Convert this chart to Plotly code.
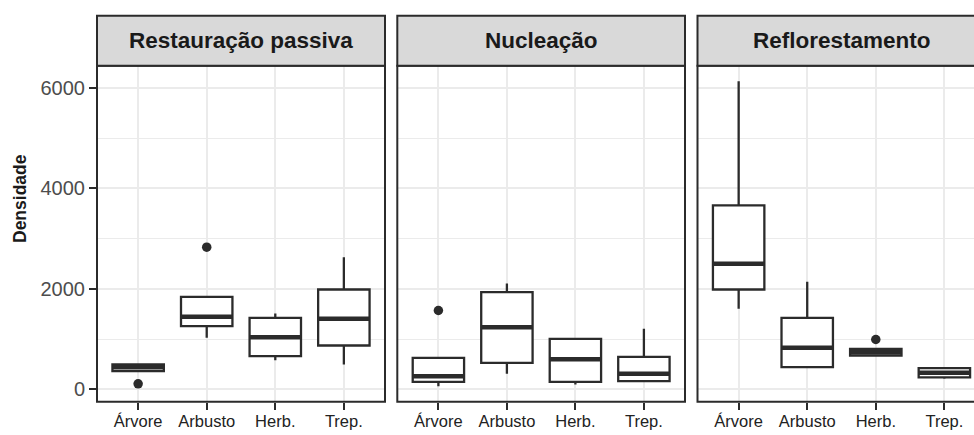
import plotly.graph_objects as go

# Life forms on the x axis of every panel
categories = ["Árvore", "Arbusto", "Herb.", "Trep."]
panels = ["Restauração passiva", "Nucleação", "Reflorestamento"]

# Box statistics per panel (density), one value per life form
passiva_lower = [364, 1028, 583, 497]
passiva_q1 = [364, 1259, 663, 875]
passiva_median = [440, 1446, 1041, 1406]
passiva_q3 = [500, 1843, 1426, 1989]
passiva_upper = [500, 1843, 1512, 2632]
passiva_out_x = ["Árvore", "Arbusto"]
passiva_out_y = [113, 2830]

nucleacao_lower = [66, 312, 100, 165]
nucleacao_q1 = [153, 530, 153, 165]
nucleacao_median = [265, 1240, 600, 312]
nucleacao_q3 = [630, 1936, 1008, 650]
nucleacao_upper = [630, 2108, 1008, 1207]
nucleacao_out_x = ["Árvore"]
nucleacao_out_y = [1571]

reflor_lower = [1605, 444, 662, 213]
reflor_q1 = [1989, 444, 676, 240]
reflor_median = [2500, 829, 742, 332]
reflor_q3 = [3660, 1426, 809, 424]
reflor_upper = [6132, 2142, 809, 424]
reflor_out_x = ["Herb."]
reflor_out_y = [994]

y_ticks = [0, 2000, 4000, 6000]
y_minor = [1000, 3000, 5000]

stats = [
    (passiva_lower, passiva_q1, passiva_median, passiva_q3, passiva_upper, passiva_out_x, passiva_out_y),
    (nucleacao_lower, nucleacao_q1, nucleacao_median, nucleacao_q3, nucleacao_upper, nucleacao_out_x, nucleacao_out_y),
    (reflor_lower, reflor_q1, reflor_median, reflor_q3, reflor_upper, reflor_out_x, reflor_out_y),
]

W, H = 974, 435
FONT = "Liberation Sans, Arial, sans-serif"
DARK = "#2b2b2b"
GRID = "#ebebeb"
BOX_W = 0.75

# panel geometry in pixels
x_px = [(97, 385), (397.3, 685), (697.5, 974)]
x_ranges = [[-0.6, 3.6], [-0.6, 3.6], [-0.6, 3.432]]
panel_top, panel_bot = 65.7, 401.7
strip_top = 15.7
y_dom = [(H - panel_bot) / H, (H - panel_top) / H]
strip_dom = [(H - panel_top) / H, (H - strip_top) / H]

fig = go.Figure()
pos = list(range(len(categories)))

for i, (lo, q1, med, q3, up, ox, oy) in enumerate(stats):
    xa = "x" if i == 0 else f"x{i+1}"
    ya = "y" if i == 0 else f"y{i+1}"
    fig.add_trace(go.Box(
        x=pos, q1=q1, median=med, q3=q3, lowerfence=lo, upperfence=up,
        width=BOX_W, whiskerwidth=0, boxpoints=False,
        fillcolor="white", line=dict(color=DARK, width=2.3),
        xaxis=xa, yaxis=ya, showlegend=False,
    ))
    # thicker median bars
    mx, my = [], []
    for p, m in zip(pos, med):
        mx += [p - BOX_W / 2, p + BOX_W / 2, None]
        my += [m, m, None]
    fig.add_trace(go.Scatter(
        x=mx, y=my, mode="lines", line=dict(color=DARK, width=4.5),
        xaxis=xa, yaxis=ya, showlegend=False, hoverinfo="skip",
    ))
    fig.add_trace(go.Scatter(
        x=[categories.index(c) for c in ox], y=oy, mode="markers",
        marker=dict(color=DARK, size=9.5),
        xaxis=xa, yaxis=ya, showlegend=False,
    ))

layout = dict(
    width=W, height=H,
    margin=dict(l=0, r=0, t=0, b=0),
    paper_bgcolor="white", plot_bgcolor="white",
    font=dict(family=FONT),
    showlegend=False,
)

shapes = []
annotations = []
for i in range(3):
    sx = "" if i == 0 else str(i + 1)
    x0, x1 = x_px[i]
    layout[f"xaxis{sx}"] = dict(
        domain=[x0 / W, x1 / W], range=x_ranges[i], anchor=f"y{sx}",
        tickvals=pos, ticktext=categories,
        showgrid=True, gridcolor=GRID, gridwidth=1.5,
        ticks="outside", ticklen=7, tickwidth=1.5, tickcolor=DARK,
        tickfont=dict(size=16.5, color="#222222", family=FONT),
        ticklabelstandoff=-3,
        zeroline=False, showline=False,
    )
    layout[f"yaxis{sx}"] = dict(
        domain=y_dom, range=[-243, 6440], anchor=f"x{sx}",
        tickvals=y_ticks,
        showticklabels=(i == 0),
        showgrid=True, gridcolor=GRID, gridwidth=1.5,
        minor=dict(tickvals=y_minor, showgrid=True, gridcolor=GRID, gridwidth=1),
        ticks="outside" if i == 0 else "", ticklen=7, tickwidth=1.5, tickcolor=DARK,
        tickfont=dict(size=20, color="#4d4d4d", family=FONT),
        zeroline=False, showline=False,
    )
    right = 1.0 if i < 2 else 1.06
    xd = f"x{sx} domain"
    yd = f"y{sx} domain"
    # panel border
    shapes.append(dict(type="rect", xref=xd, yref=yd, x0=0, x1=right, y0=0, y1=1,
                       line=dict(color=DARK, width=2), fillcolor="rgba(0,0,0,0)", layer="above"))
    # strip
    shapes.append(dict(type="rect", xref=xd, yref="paper", x0=0, x1=right,
                       y0=strip_dom[0], y1=strip_dom[1],
                       line=dict(color=DARK, width=2), fillcolor="#d9d9d9", layer="above"))
    full_w = 288.0
    cx = (full_w / 2) / (x1 - x0)
    annotations.append(dict(
        text=f"<b>{panels[i]}</b>", xref=xd, yref="paper",
        x=cx, y=(strip_dom[0] + strip_dom[1]) / 2, xanchor="center", yanchor="middle",
        showarrow=False, font=dict(size=22.5, color="#1a1a1a", family=FONT),
    ))

annotations.append(dict(
    text="<b>Densidade</b>", xref="paper", yref="paper",
    x=20 / W, y=(H - 199) / H, xanchor="center", yanchor="middle",
    textangle=-90, showarrow=False, font=dict(size=17.5, color="#1a1a1a", family=FONT),
))

layout["shapes"] = shapes
layout["annotations"] = annotations
fig.update_layout(**layout)

fig.write_html("out.html")
